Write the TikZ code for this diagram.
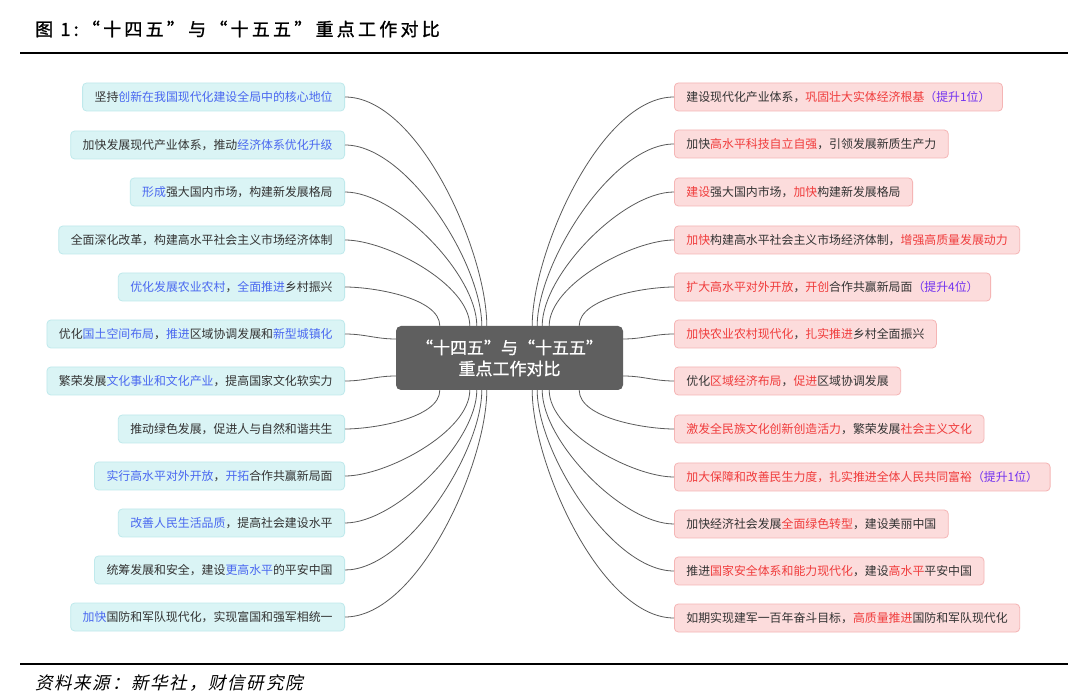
\documentclass[tikz,border=0pt]{standalone}
\usepackage{fontspec}
\setmainfont{Noto Sans CJK SC}
\newfontfamily\cjkit[FakeSlant=0.22,LetterSpace=10]{Noto Sans CJK SC}
\newfontfamily\titlefont[FakeBold=1.2,LetterSpace=18]{Noto Sans CJK SC}
\newfontfamily\centerfont[FakeBold=0.8]{Noto Sans CJK SC}
\usetikzlibrary{calc}
\definecolor{txt}{HTML}{333333}
\definecolor{lfill}{HTML}{DAF4F5}
\definecolor{lborder}{HTML}{BFE9EC}
\definecolor{rfill}{HTML}{FCDCDC}
\definecolor{rborder}{HTML}{F5B5B5}
\definecolor{hblue}{HTML}{4A68F0}
\definecolor{hred}{HTML}{F03C3C}
\definecolor{hpurp}{HTML}{7232F0}
\definecolor{cfill}{HTML}{5F5F5F}
\definecolor{lineclr}{HTML}{5A5A5A}
\newcommand{\hb}[1]{\textcolor{hblue}{#1}}
\newcommand{\hr}[1]{\textcolor{hred}{#1}}
\newcommand{\hp}[1]{\textcolor{hpurp}{#1}}
\tikzset{
  boxbase/.style={rounded corners=4pt, line width=0.8pt, minimum height=28pt,
    inner xsep=12pt, inner ysep=0pt, font=\fontsize{11.9}{14}\selectfont, text=txt},
  lbox/.style={boxbase, draw=lborder, fill=lfill, anchor=east},
  rbox/.style={boxbase, draw=rborder, fill=rfill, anchor=west},
  centerbox/.style={rounded corners=5pt, fill=cfill, text=white, align=center,
    minimum width=227pt, minimum height=64pt, inner sep=0pt,
    font=\centerfont\fontsize{17}{21}\selectfont},
  conn/.style={draw=lineclr, line width=0.8pt, looseness=0.7},
  rule/.style={line width=2.2pt, black}
}
\begin{document}
\begin{tikzpicture}[x=1pt,y=1pt]
\useasboundingbox (0,0) rectangle (1080,-700);
\fill[white] (0,0) rectangle (1080,-700);

\node[anchor=west, inner sep=0pt, font=\titlefont\fontsize{18}{20}\selectfont] (title) at (35,-29) {图 1:“十四五”与“十五五”重点工作对比};
\draw[rule] (20,-53) -- (1068,-53);
\draw[rule] (20,-664) -- (1068,-664);
\node[anchor=west, inner sep=0pt, font=\cjkit\fontsize{17.5}{20}\selectfont] (src) at (35,-683) {资料来源：新华社，财信研究院};

\node[centerbox] (C) at (509.5,-358) {“十四五”与“十五五”\\重点工作对比};

\node[lbox] (L1) at (345,-97) {坚持\hb{创新在我国现代化建设全局中的核心地位}};
\node[lbox] (L2) at (345,-145) {加快发展现代产业体系，推动\hb{经济体系优化升级}};
\node[lbox] (L3) at (345,-192) {\hb{形成}强大国内市场，构建新发展格局};
\node[lbox] (L4) at (345,-240) {全面深化改革，构建高水平社会主义市场经济体制};
\node[lbox] (L5) at (345,-287) {\hb{优化发展农业农村}，\hb{全面推进}乡村振兴};
\node[lbox] (L6) at (345,-334) {优化\hb{国土空间布局}，\hb{推进}区域协调发展和\hb{新型城镇化}};
\node[lbox] (L7) at (345,-381) {繁荣发展\hb{文化事业和文化产业}，提高国家文化软实力};
\node[lbox] (L8) at (345,-429) {推动绿色发展，促进人与自然和谐共生};
\node[lbox] (L9) at (345,-476) {\hb{实行高水平对外开放}，\hb{开拓}合作共赢新局面};
\node[lbox] (L10) at (345,-523) {\hb{改善人民生活品质}，提高社会建设水平};
\node[lbox] (L11) at (345,-570) {统筹发展和安全，建设\hb{更高水平}的平安中国};
\node[lbox] (L12) at (345,-617) {\hb{加快}国防和军队现代化，实现富国和强军相统一};

\node[rbox] (R1) at (674,-97) {建设现代化产业体系，\hr{巩固壮大实体经济根基}\hp{（提升1位）}};
\node[rbox] (R2) at (674,-144) {加快\hr{高水平科技自立自强}，引领发展新质生产力};
\node[rbox] (R3) at (674,-192) {\hr{建设}强大国内市场，\hr{加快}构建新发展格局};
\node[rbox] (R4) at (674,-240) {\hr{加快}构建高水平社会主义市场经济体制，\hr{增强高质量发展动力}};
\node[rbox] (R5) at (674,-287) {\hr{扩大高水平对外开放}，\hr{开创}合作共赢新局面\hp{（提升4位）}};
\node[rbox] (R6) at (674,-334) {\hr{加快农业农村现代化}，\hr{扎实推进}乡村全面振兴};
\node[rbox] (R7) at (674,-381) {优化\hr{区域经济布局}，\hr{促进}区域协调发展};
\node[rbox] (R8) at (674,-429) {\hr{激发全民族文化创新创造活力}，繁荣发展\hr{社会主义文化}};
\node[rbox] (R9) at (674,-477) {\hr{加大保障和改善民生力度，扎实推进全体人民共同富裕}\hp{（提升1位）}};
\node[rbox] (R10) at (674,-524) {加快经济社会发展\hr{全面绿色转型}，建设美丽中国};
\node[rbox] (R11) at (674,-571) {推进\hr{国家安全体系和能力现代化}，建设\hr{高水平}平安中国};
\node[rbox] (R12) at (674,-618) {如期实现建军一百年奋斗目标，\hr{高质量推进}国防和军队现代化};

% top connectors
\foreach \i/\dx in {1/91,2/86,3/81,4/74,5/44}{
  \draw[conn] (L\i.east) to[out=0,in=90] ($(C.north west)+(\dx,0)$);
  \draw[conn] (R\i.west) to[out=180,in=90] ($(C.north east)+(-\dx,0)$);
}
% bottom connectors
\foreach \i/\dx in {12/91,11/86,10/81,9/74,8/44}{
  \draw[conn] (L\i.east) to[out=0,in=-90] ($(C.south west)+(\dx,0)$);
  \draw[conn] (R\i.west) to[out=180,in=-90] ($(C.south east)+(-\dx,0)$);
}
% middle connectors
\draw[conn] (L6.east) to[out=0,in=180,looseness=1] ($(C.west)+(0,19)$);
\draw[conn] (L7.east) to[out=0,in=180,looseness=1] ($(C.west)+(0,-18)$);
\draw[conn] (R6.west) to[out=180,in=0,looseness=1] ($(C.east)+(0,19)$);
\draw[conn] (R7.west) to[out=180,in=0,looseness=1] ($(C.east)+(0,-18)$);
\end{tikzpicture}
\end{document}
